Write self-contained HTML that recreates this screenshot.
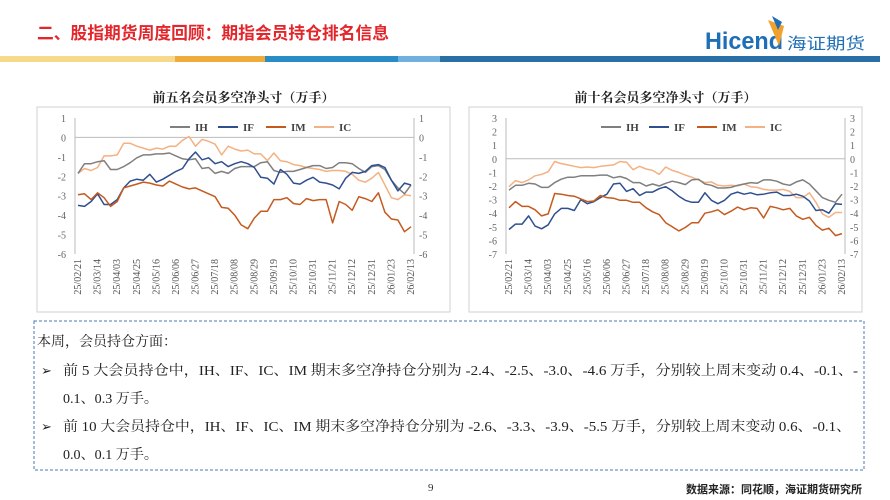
<!DOCTYPE html>
<html><head><meta charset="utf-8">
<style>
body{margin:0;width:890px;height:500px;overflow:hidden;background:#fff;font-family:"Liberation Serif","Noto Serif CJK SC",serif;}
svg{display:block}
</style></head>
<body>
<svg id="page" width="890" height="500" viewBox="0 0 890 500">
  <text x="37" y="39" font-size="17" font-weight="bold" fill="#e3262b" textLength="352" lengthAdjust="spacingAndGlyphs" font-family="'Liberation Sans','Noto Sans CJK SC',sans-serif">二、股指期货周度回顾：期指会员持仓排名信息</text>
  <g>
    <text x="705" y="49" font-size="24" font-weight="bold" fill="#1f6fb6" font-family="'Liberation Sans',sans-serif" textLength="78" lengthAdjust="spacingAndGlyphs">Hicend</text>
    <path d="M768 20 L784 26 L779 46 Z" fill="#f2a22c"/>
    <path d="M772 16 L782 22 L778 30 Z" fill="#1f6fb6"/>
    <text x="787" y="49" font-size="16" fill="#1f6fb6" font-family="'Noto Sans CJK SC',sans-serif" textLength="78" lengthAdjust="spacingAndGlyphs">海证期货</text>
  </g>
  <g>
    <rect x="0" y="56" width="175" height="6" fill="#f7d98c"/>
    <rect x="175" y="56" width="90" height="6" fill="#f0ac3a"/>
    <rect x="265" y="56" width="133" height="6" fill="#2a8cc7"/>
    <rect x="398" y="56" width="42" height="6" fill="#6fb0de"/>
    <rect x="440" y="56" width="440" height="6" fill="#2a6ea6"/>
  </g>
  <g id="chart1"></g>
  <g id="chart2"></g>
  <g>
    <rect x="34" y="321" width="830" height="149" fill="none" stroke="#4a78b8" stroke-width="1" stroke-dasharray="3,2"/>
    <text x="37" y="346" font-size="14" fill="#222" textLength="140" lengthAdjust="spacingAndGlyphs">本周，会员持仓方面：</text>
    <text x="41" y="375" font-size="13" fill="#222">➢</text>
    <text x="63" y="375" font-size="14" fill="#222" textLength="795" lengthAdjust="spacingAndGlyphs">前 5 大会员持仓中，IH、IF、IC、IM 期末多空净持仓分别为 -2.4、-2.5、-3.0、-4.6 万手，分别较上周末变动 0.4、-0.1、-</text>
    <text x="63" y="403" font-size="14" fill="#222" textLength="95" lengthAdjust="spacingAndGlyphs">0.1、0.3 万手。</text>
    <text x="41" y="431" font-size="13" fill="#222">➢</text>
    <text x="63" y="431" font-size="14" fill="#222" textLength="788" lengthAdjust="spacingAndGlyphs">前 10 大会员持仓中，IH、IF、IC、IM 期末多空净持仓分别为 -2.6、-3.3、-3.9、-5.5 万手，分别较上周末变动 0.6、-0.1、</text>
    <text x="63" y="459" font-size="14" fill="#222" textLength="95" lengthAdjust="spacingAndGlyphs">0.0、0.1 万手。</text>
  </g>
  <text x="428" y="491" font-size="11" fill="#333">9</text>
  <text x="862" y="493" font-size="11" font-weight="bold" fill="#222" text-anchor="end" font-family="'Noto Sans CJK SC',sans-serif">数据来源：同花顺，海证期货研究所</text>
</svg>
<script>
const dates = ["25/02/21","25/03/14","25/04/03","25/04/25","25/05/16","25/06/06","25/06/27","25/07/18","25/08/08","25/08/29","25/09/19","25/10/10","25/10/31","25/11/21","25/12/12","25/12/31","26/01/23","26/02/13"];
const seriesNames = ["IH","IF","IM","IC"];
const seriesColors = ["#7f7f7f","#2f4f8f","#c55a1f","#f4b183"];
const top5IH = [-1.85,-1.35,-1.35,-1.25,-1.2,-1.65,-1.65,-1.5,-1.3,-1.05,-0.9,-0.9,-0.85,-0.85,-0.8,-0.95,-1.1,-1.15,-1.1,-1.6,-1.55,-1.85,-1.75,-1.85,-1.6,-1.5,-1.5,-1.5,-1.3,-1.25,-1.7,-1.8,-1.75,-1.75,-1.65,-1.55,-1.45,-1.45,-1.6,-1.55,-1.3,-1.3,-1.35,-1.6,-1.8,-1.5,-1.45,-1.65,-2.2,-2.6,-2.9,-2.45];
const top5IF = [-3.5,-3.55,-3.3,-2.9,-3.45,-3.45,-3.2,-2.6,-2.25,-2.15,-2.2,-1.9,-2.3,-2.15,-1.95,-1.75,-1.6,-1.1,-0.75,-1.15,-1.05,-1.35,-1.25,-1.5,-1.35,-1.25,-1.35,-1.55,-2.05,-2.1,-2.4,-1.65,-1.9,-2.35,-2.4,-2.2,-2.05,-2.3,-2.35,-2.45,-2.65,-2.1,-1.8,-1.85,-1.75,-1.45,-1.4,-1.55,-2.2,-2.75,-2.35,-2.45];
const top5IM = [-2.95,-2.9,-3.2,-2.85,-3.1,-3.55,-3.3,-2.6,-2.5,-2.4,-2.3,-2.35,-2.45,-2.5,-2.25,-2.4,-2.55,-2.65,-2.6,-2.75,-2.9,-3.05,-3.6,-3.65,-4.0,-4.5,-4.7,-4.15,-3.8,-3.8,-3.2,-3.2,-3.1,-3.4,-3.45,-3.15,-3.25,-3.2,-3.2,-4.4,-3.3,-3.45,-3.75,-3.05,-3.15,-3.3,-2.85,-3.85,-4.2,-4.25,-4.85,-4.6];
const top5IC = [-1.85,-1.6,-1.7,-1.55,-0.95,-0.95,-0.9,-0.3,-0.3,-0.45,-0.55,-0.65,-0.55,-0.6,-0.45,-0.45,-0.15,0.05,-0.45,-0.1,-0.2,-0.35,-0.9,-0.45,-0.6,-0.7,-0.65,-0.85,-0.85,-1.2,-0.8,-1.2,-1.25,-1.4,-1.45,-1.55,-1.6,-1.65,-1.75,-1.7,-1.7,-1.75,-1.9,-2.2,-2.3,-2.1,-1.8,-2.45,-3.1,-3.2,-2.95,-3.0];
const top10IH = [-2.3,-1.95,-1.95,-1.8,-1.85,-2.1,-2.1,-1.75,-1.5,-1.35,-1.35,-1.25,-1.25,-1.25,-1.2,-1.2,-1.4,-1.3,-1.45,-1.75,-1.75,-2.0,-1.85,-2.0,-1.8,-1.65,-1.75,-1.9,-1.55,-1.5,-1.85,-1.95,-2.15,-2.15,-2.1,-1.95,-1.85,-1.75,-1.8,-1.55,-1.55,-1.65,-1.85,-1.95,-1.7,-1.55,-1.85,-2.35,-2.85,-3.05,-3.2,-2.6];
const top10IF = [-5.2,-4.8,-4.8,-4.2,-4.95,-5.15,-4.85,-4.05,-3.65,-3.65,-3.8,-3.0,-3.3,-3.15,-2.85,-2.6,-1.85,-1.8,-2.4,-2.2,-2.7,-2.45,-2.45,-2.2,-2.05,-2.35,-2.75,-3.05,-3.2,-3.2,-2.5,-3.05,-3.3,-3.05,-2.6,-2.45,-2.6,-2.5,-2.65,-2.6,-2.5,-2.45,-2.7,-2.7,-2.6,-2.75,-3.1,-3.8,-3.75,-4.0,-3.3,-3.35];
const top10IM = [-3.6,-3.15,-3.5,-3.5,-3.75,-4.2,-4.05,-2.55,-2.6,-2.7,-2.75,-2.95,-3.15,-3.1,-2.7,-2.85,-2.9,-3.05,-3.05,-3.2,-3.2,-3.6,-3.9,-4.1,-4.7,-5.0,-5.3,-5.05,-4.7,-4.7,-4.0,-3.9,-3.75,-4.1,-3.85,-3.55,-3.75,-3.6,-3.65,-4.35,-3.5,-3.6,-3.75,-3.65,-4.2,-4.45,-4.3,-4.9,-5.25,-5.1,-5.65,-5.5];
const top10IC = [-2.05,-1.6,-1.75,-1.55,-1.25,-1.15,-0.95,-0.2,-0.35,-0.45,-0.55,-0.65,-0.6,-0.65,-0.55,-0.5,-0.45,-0.2,-0.25,-0.8,-0.55,-0.75,-0.85,-1.15,-0.6,-0.85,-1.0,-1.2,-1.35,-1.55,-1.75,-1.7,-1.95,-2.0,-1.95,-2.0,-1.85,-2.05,-2.1,-2.25,-2.3,-2.3,-2.25,-2.4,-2.85,-2.85,-2.5,-3.2,-4.05,-4.3,-3.95,-3.95];
const top5Ticks = [1,0,-1,-2,-3,-4,-5,-6];
const top10Ticks = [3,2,1,0,-1,-2,-3,-4,-5,-6,-7];

const NS = "http://www.w3.org/2000/svg";
function mk(tag, attrs, parent){const e=document.createElementNS(NS,tag);for(const k in attrs)e.setAttribute(k,attrs[k]);parent.appendChild(e);return e;}

function drawChart(g, cfg, series, ticks){
  mk('rect',{x:cfg.bx,y:107,width:cfg.bw,height:205,fill:'#fff',stroke:'#d0d0d0'},g);
  const t = mk('text',{x:cfg.bx+cfg.bw/2,y:102,'text-anchor':'middle','font-size':13,'font-weight':'bold',fill:'#222'},g);
  t.textContent = cfg.title;
  
  
  const top=118,bot=254,ymax=ticks[0],ymin=ticks[ticks.length-1];
  const y = v => top + (ymax-v)/(ymax-ymin)*(bot-top);
  const n = series[0].length;
  const x = i => cfg.x0 + i*(cfg.x1-cfg.x0)/(n-1);
  ticks.forEach(v=>{
    const a = mk('text',{x:cfg.x0-12,y:y(v)+4,'text-anchor':'end','font-size':10,fill:'#666'},g);
    a.textContent = v;
    
    
    const b = mk('text',{x:cfg.x1+8,y:y(v)+4,'font-size':10,fill:'#666'},g);
    b.textContent = v;
    
    
  });
  mk('line',{x1:cfg.x0-3,x2:cfg.x0-3,y1:top,y2:bot,stroke:'#bbb'},g);
  mk('line',{x1:cfg.x1+3,x2:cfg.x1+3,y1:top,y2:bot,stroke:'#bbb'},g);
  const zl = mk('line',{x1:cfg.x0-3,x2:cfg.x1+3,y1:y(0),y2:y(0),stroke:'#bbb'},g);
  
  
  dates.forEach((d,k)=>{
    const xi = x(k*3);
    const dl = mk('text',{x:0,y:0,'font-size':10,fill:'#555','text-anchor':'end',transform:`translate(${xi+3},${bot+5}) rotate(-90)`},g);
    dl.textContent = d;
    
    
  });
  [3,0,1,2].forEach(s=>{
    const pts = series[s].map((v,i)=>x(i).toFixed(1)+','+y(v).toFixed(1)).join(' ');
    const p = mk('polyline',{points:pts,fill:'none',stroke:seriesColors[s],'stroke-width':1.5,'stroke-linejoin':'round'},g);
    
    
  });
  let lx = cfg.legendX;
  seriesNames.forEach((nm,s)=>{
    mk('line',{x1:lx,x2:lx+20,y1:127,y2:127,stroke:seriesColors[s],'stroke-width':2},g);
    const lt = mk('text',{x:lx+25,y:131,'font-size':11,'font-weight':'bold',fill:'#444'},g);
    lt.textContent = nm;
    
    
    lx += 48;
  });
}
drawChart(document.getElementById('chart1'),{bx:37,bw:413,x0:78,x1:411,title:'前五名会员多空净头寸（万手）',legendX:170},[top5IH,top5IF,top5IM,top5IC],top5Ticks);
drawChart(document.getElementById('chart2'),{bx:469,bw:393,x0:509,x1:842,title:'前十名会员多空净头寸（万手）',legendX:601},[top10IH,top10IF,top10IM,top10IC],top10Ticks);
</script>
</body></html>
